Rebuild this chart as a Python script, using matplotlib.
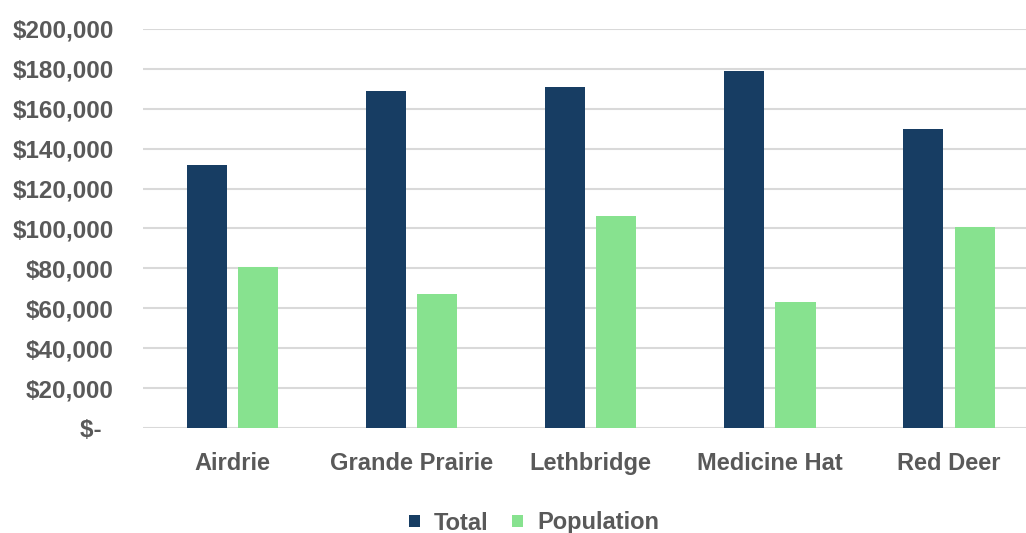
import matplotlib
matplotlib.use("Agg")
import matplotlib.pyplot as plt
import numpy as np
from matplotlib.ticker import FuncFormatter

categories = ["Airdrie", "Grande Prairie", "Lethbridge", "Medicine Hat", "Red Deer"]
total = [132000, 169000, 171000, 179000, 150000]
population = [80500, 67000, 106500, 63000, 101000]
yticks = [0, 20000, 40000, 60000, 80000, 100000, 120000, 140000, 160000, 180000, 200000]

NAVY = "#173D63"
GREEN = "#87E28F"
TXT = "#595959"

plt.rcParams['font.family'] = ['Liberation Sans', 'DejaVu Sans']
plt.rcParams['font.weight'] = 'bold'

fig = plt.figure(figsize=(10.26, 5.33), dpi=100)
W, H = 1026, 533
left, right = 143 / W, 1038.5 / W
bottom, top = 105 / H, (533 - 29) / H
ax = fig.add_axes([left, bottom, right - left, top - bottom])

x = np.arange(len(categories))
bw = 0.224
gap = 0.062
ax.bar(x - (bw + gap) / 2, total, bw, color=NAVY, label="Total", zorder=3)
ax.bar(x + (bw + gap) / 2, population, bw, color=GREEN, label="Population", zorder=3)

ax.set_xlim(-0.5, len(categories) - 0.5)
ax.set_ylim(0, 200000)
ax.set_yticks(yticks)
ax.yaxis.set_major_formatter(FuncFormatter(lambda v, p: "$-\u2002" if v == 0 else f"${v:,.0f}"))
ax.set_xticks(x)
ax.set_xticklabels(categories)
ax.grid(axis='y', color="#D9D9D9", linewidth=1.5, zorder=0)
ax.set_axisbelow(True)
for s in ax.spines.values():
    s.set_visible(False)
ax.tick_params(axis='both', length=0, colors=TXT)
ax.tick_params(axis='y', pad=21, labelsize=17.5)
ax.tick_params(axis='x', pad=17, labelsize=17)
for lab in ax.get_xticklabels() + ax.get_yticklabels():
    lab.set_fontweight('bold')
    lab.set_color(TXT)

leg = fig.legend(loc='center', bbox_to_anchor=(534 / W, 1 - 523 / H), ncol=2, frameon=False,
                 handlelength=0.45, handleheight=0.45, handletextpad=0.6, columnspacing=1.0,
                 prop={'size': 17, 'weight': 'bold'})
for t in leg.get_texts():
    t.set_color(TXT)

fig.savefig("out.png", dpi=100)
